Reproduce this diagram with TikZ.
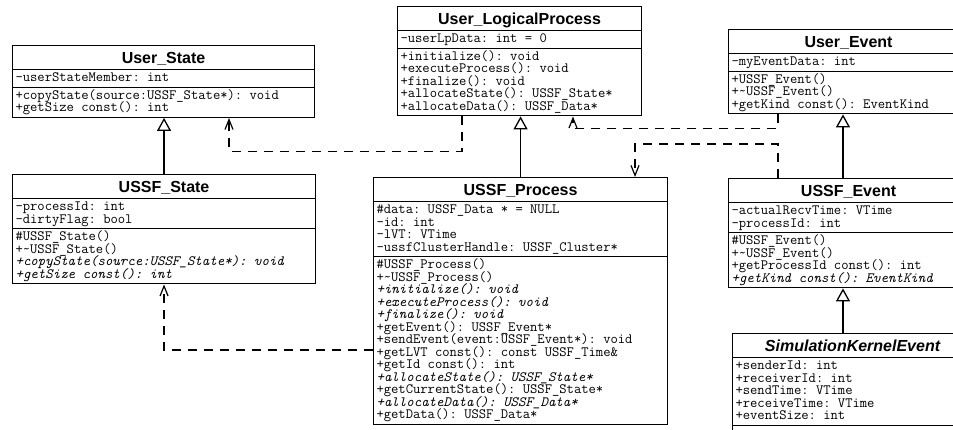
\documentclass[tikz,border=0pt]{standalone}
\usepackage{fontspec}
\setmainfont{Liberation Sans}
\setsansfont{Liberation Sans}
\usetikzlibrary{arrows.meta,shapes.multipart}

% class box fonts and fixed-height rows
\newcommand{\umlmono}{\fontsize{14.2}{12.5}\selectfont\ttfamily\frenchspacing}
\newcommand{\umltitle}{\fontsize{16}{18}\selectfont\sffamily\bfseries}
\newcommand{\mrow}[1]{\hbox{\rule[-3pt]{0pt}{12.5pt}\smash{#1}}}
\newcommand{\umlrows}[1]{\vbox{\offinterlineskip#1}}
\newcommand{\classname}[1]{\hbox{\rule[-4pt]{0pt}{19pt}\smash{\umltitle#1}}}

\begin{document}
\begin{tikzpicture}[
    x=1pt, y=1pt,
    umlclass/.style={draw, line width=1.1pt, rectangle split, rectangle split parts=3,
        rectangle split part align={center,left,left},
        anchor=north west, inner xsep=3pt, inner ysep=2pt, font=\umlmono},
    inherit/.style={line width=1.3pt, -{Triangle[open, length=13pt, width=14pt]}},
    depend/.style={line width=1.2pt, dash pattern=on 9pt off 7pt,
        -{Straight Barb[length=10pt, width=8pt]}}
]
\fill[white] (0,0) rectangle (953,-430);
\useasboundingbox (0,0) rectangle (953,-430);
\clip (0,0) rectangle (953,-430);

% user classes
\node[umlclass, minimum width=302pt] (userstate) at (12,-45) {\classname{User\_State}
    \nodepart{two}\umlrows{\mrow{-userStateMember: int}}
    \nodepart{three}\umlrows{\mrow{+copyState(source:USSF\_State*): void}
        \mrow{+getSize const(): int}}};

\node[umlclass, minimum width=244pt] (userlp) at (397,-6) {\classname{User\_LogicalProcess}
    \nodepart{two}\umlrows{\mrow{-userLpData: int = 0}}
    \nodepart{three}\umlrows{\mrow{+initialize(): void}
        \mrow{+executeProcess(): void}
        \mrow{+finalize(): void}
        \mrow{+allocateState(): USSF\_State*}
        \mrow{+allocateData(): USSF\_Data*}}};

\node[umlclass, minimum width=240pt] (userevent) at (728,-29) {\classname{User\_Event}
    \nodepart{two}\umlrows{\mrow{-myEventData: int}}
    \nodepart{three}\umlrows{\mrow{+USSF\_Event()}
        \mrow{+\textasciitilde USSF\_Event()}
        \mrow{+getKind const(): EventKind}}};

% kernel classes
\node[umlclass, minimum width=303pt] (ussfstate) at (12,-174) {\classname{USSF\_State}
    \nodepart{two}\umlrows{\mrow{-processId: int}
        \mrow{-dirtyFlag: bool}}
    \nodepart{three}\umlrows{\mrow{\#USSF\_State()}
        \mrow{+\textasciitilde USSF\_State()}
        \mrow{\itshape +copyState(source:USSF\_State*): void}
        \mrow{\itshape +getSize const(): int}}};

\node[umlclass, minimum width=294pt] (ussfprocess) at (373,-177) {\classname{USSF\_Process}
    \nodepart{two}\umlrows{\mrow{\#data: USSF\_Data * = NULL}
        \mrow{-id: int}
        \mrow{-lVT: VTime}
        \mrow{-ussfClusterHandle: USSF\_Cluster*}}
    \nodepart{three}\umlrows{\mrow{\#USSF\_Process()}
        \mrow{+\textasciitilde USSF\_Process()}
        \mrow{\itshape +initialize(): void}
        \mrow{\itshape +executeProcess(): void}
        \mrow{\itshape +finalize(): void}
        \mrow{+getEvent(): USSF\_Event*}
        \mrow{+sendEvent(event:USSF\_Event*): void}
        \mrow{+getLVT const(): const USSF\_Time\&}
        \mrow{+getId const(): int}
        \mrow{\itshape +allocateState(): USSF\_State*}
        \mrow{+getCurrentState(): USSF\_State*}
        \mrow{\itshape +allocateData(): USSF\_Data*}
        \mrow{+getData(): USSF\_Data*}}};

\node[umlclass, minimum width=240pt] (ussfevent) at (728,-178) {\classname{USSF\_Event}
    \nodepart{two}\umlrows{\mrow{-actualRecvTime: VTime}
        \mrow{-processId: int}}
    \nodepart{three}\umlrows{\mrow{\#USSF\_Event()}
        \mrow{+\textasciitilde USSF\_Event()}
        \mrow{+getProcessId const(): int}
        \mrow{\itshape +getKind const(): EventKind}}};

\node[umlclass, minimum width=240pt] (simevent) at (732,-333) {\classname{\itshape SimulationKernelEvent}
    \nodepart{two}\umlrows{\mrow{+senderId: int}
        \mrow{+receiverId: int}
        \mrow{+sendTime: VTime}
        \mrow{+receiveTime: VTime}
        \mrow{+eventSize: int}}
    \nodepart{three}\umlrows{\mrow{}}};

% generalizations
\draw[inherit] (ussfstate.north) -- (ussfstate.north |- userstate.south);
\draw[inherit] (ussfprocess.north) -- (ussfprocess.north |- userlp.south);
\draw[inherit] ([xshift=115pt]ussfevent.north west) -- ([xshift=115pt]userevent.south west);
\draw[inherit] ([xshift=111pt]simevent.north west) -- ([xshift=115pt]ussfevent.south west);

% dependencies
\draw[depend] ([xshift=65pt]userlp.south west) -- ++(0,-35) -| ([xshift=217pt]userstate.south west);
\draw[depend] ([yshift=-173pt]ussfprocess.north west) -| (ussfstate.south);
\draw[depend] ([xshift=50pt]userevent.south west) -- ++(0,-14) -| ([xshift=176pt]userlp.south west);
\draw[depend] ([xshift=50pt]ussfevent.north west) -- ++(0,34) -| ([xshift=262pt]ussfprocess.north west);

\end{tikzpicture}
\end{document}
